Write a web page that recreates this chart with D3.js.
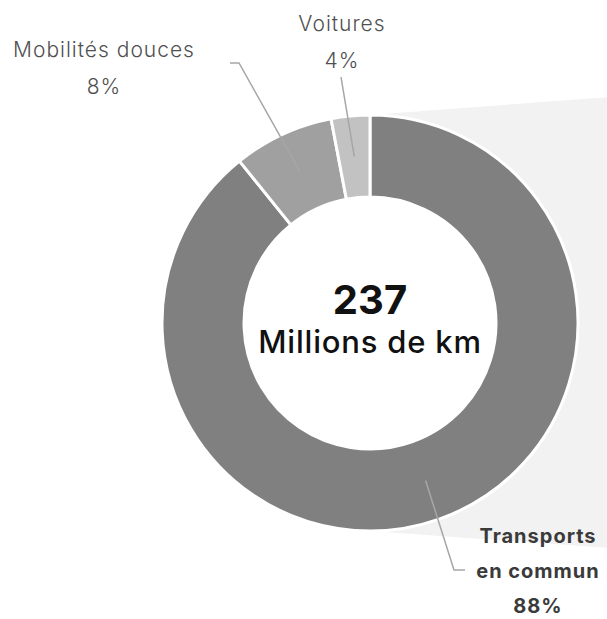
<!DOCTYPE html>
<html>
<head>
<meta charset="utf-8">
<script src="https://cdn.jsdelivr.net/npm/d3@7"></script>
<style>
  body { margin: 0; background: #fff; }
  #chart { width: 607px; height: 619px; }
  text { font-family: "Inter", "Noto Sans", sans-serif; }
</style>
</head>
<body>
<div id="chart"></div>
<script>
// slice shares (labels are the rounded values shown)
var categories = ["Transports en commun", "Mobilités douces", "Voitures"];
var shares = [89.2, 7.8, 3.0];
var shareLabels = ["88%", "8%", "4%"];
var sliceColors = ["#808080", "#a0a0a0", "#c2c2c2"];
var totalValue = "237";
var totalUnit = "Millions de km";

var width = 607, height = 619;
var cx = 370, cy = 323;
var outerR = 208, innerR = 126;

var svg = d3.select("#chart")
    .append("svg")
    .attr("width", width)
    .attr("height", height);

// light grey callout band behind the donut, running off to the right
svg.append("polygon")
    .attr("points", [
        [cx, cy - outerR],
        [width + 2, cy - outerR - 18],
        [width + 2, cy + outerR + 17],
        [cx, cy + outerR]
    ].map(p => p.join(",")).join(" "))
    .attr("fill", "#f2f2f2");

var g = svg.append("g")
    .attr("transform", `translate(${cx},${cy})`);

// white disc so the band doesn't show through the hole
g.append("circle")
    .attr("r", outerR)
    .attr("fill", "#fff");

var pie = d3.pie()
    .sort(null)
    .value(d => d.value);

var data = categories.map((c, i) => ({ name: c, value: shares[i], label: shareLabels[i], color: sliceColors[i] }));
var arcs = pie(data);

var arc = d3.arc()
    .innerRadius(innerR)
    .outerRadius(outerR);

var midArc = d3.arc()
    .innerRadius((innerR + outerR) / 2)
    .outerRadius((innerR + outerR) / 2);

g.selectAll(".slice")
    .data(arcs)
    .join("path")
    .attr("class", "slice")
    .attr("d", arc)
    .attr("fill", d => d.data.color)
    .attr("stroke", "#fff")
    .attr("stroke-width", 3);

// centre text
g.append("text")
    .attr("text-anchor", "middle")
    .attr("y", -9)
    .style("font-size", "40px")
    .style("font-weight", "bold")
    .style("fill", "#111")
    .text(totalValue);

g.append("text")
    .attr("text-anchor", "middle")
    .attr("y", 30)
    .style("font-size", "31px")
    .style("font-weight", "500")
    .style("letter-spacing", "0.8px")
    .style("fill", "#111")
    .text(totalUnit);

// label layout: elbow and end points of leader lines, text position (absolute page coords)
var labelLayout = [
    { elbow: [454, 570], end: [465, 570], textX: 538, textY: 543, gap: 35, lines: ["Transports", "en commun"], bold: true },
    { elbow: [239, 63], end: [230, 63], textX: 104, textY: 57, gap: 37, lines: ["Mobilités douces"], bold: false },
    { elbow: [341, 77], end: [341, 77], textX: 342, textY: 31, gap: 37, lines: ["Voitures"], bold: false }
];

var lineGen = d3.line();

arcs.forEach((a, i) => {
    var lay = labelLayout[i];
    var c = midArc.centroid(a);
    var start = [cx + c[0], cy + c[1]];
    svg.append("path")
        .attr("d", lineGen([start, lay.elbow, lay.end]))
        .attr("fill", "none")
        .attr("stroke", "#a6a6a6")
        .attr("stroke-width", 1.5);

    var t = svg.append("text")
        .attr("text-anchor", "middle")
        .style("font-size", lay.bold ? "20px" : "21px")
        .style("font-weight", lay.bold ? "bold" : "300")
        .style("letter-spacing", "1px")
        .style("fill", lay.bold ? "#3a3a3a" : "#505050");

    lay.lines.concat([a.data.label]).forEach((s, j) => {
        t.append("tspan")
            .attr("x", lay.textX)
            .attr("y", lay.textY + j * lay.gap)
            .text(s);
    });
});
</script>
</body>
</html>
